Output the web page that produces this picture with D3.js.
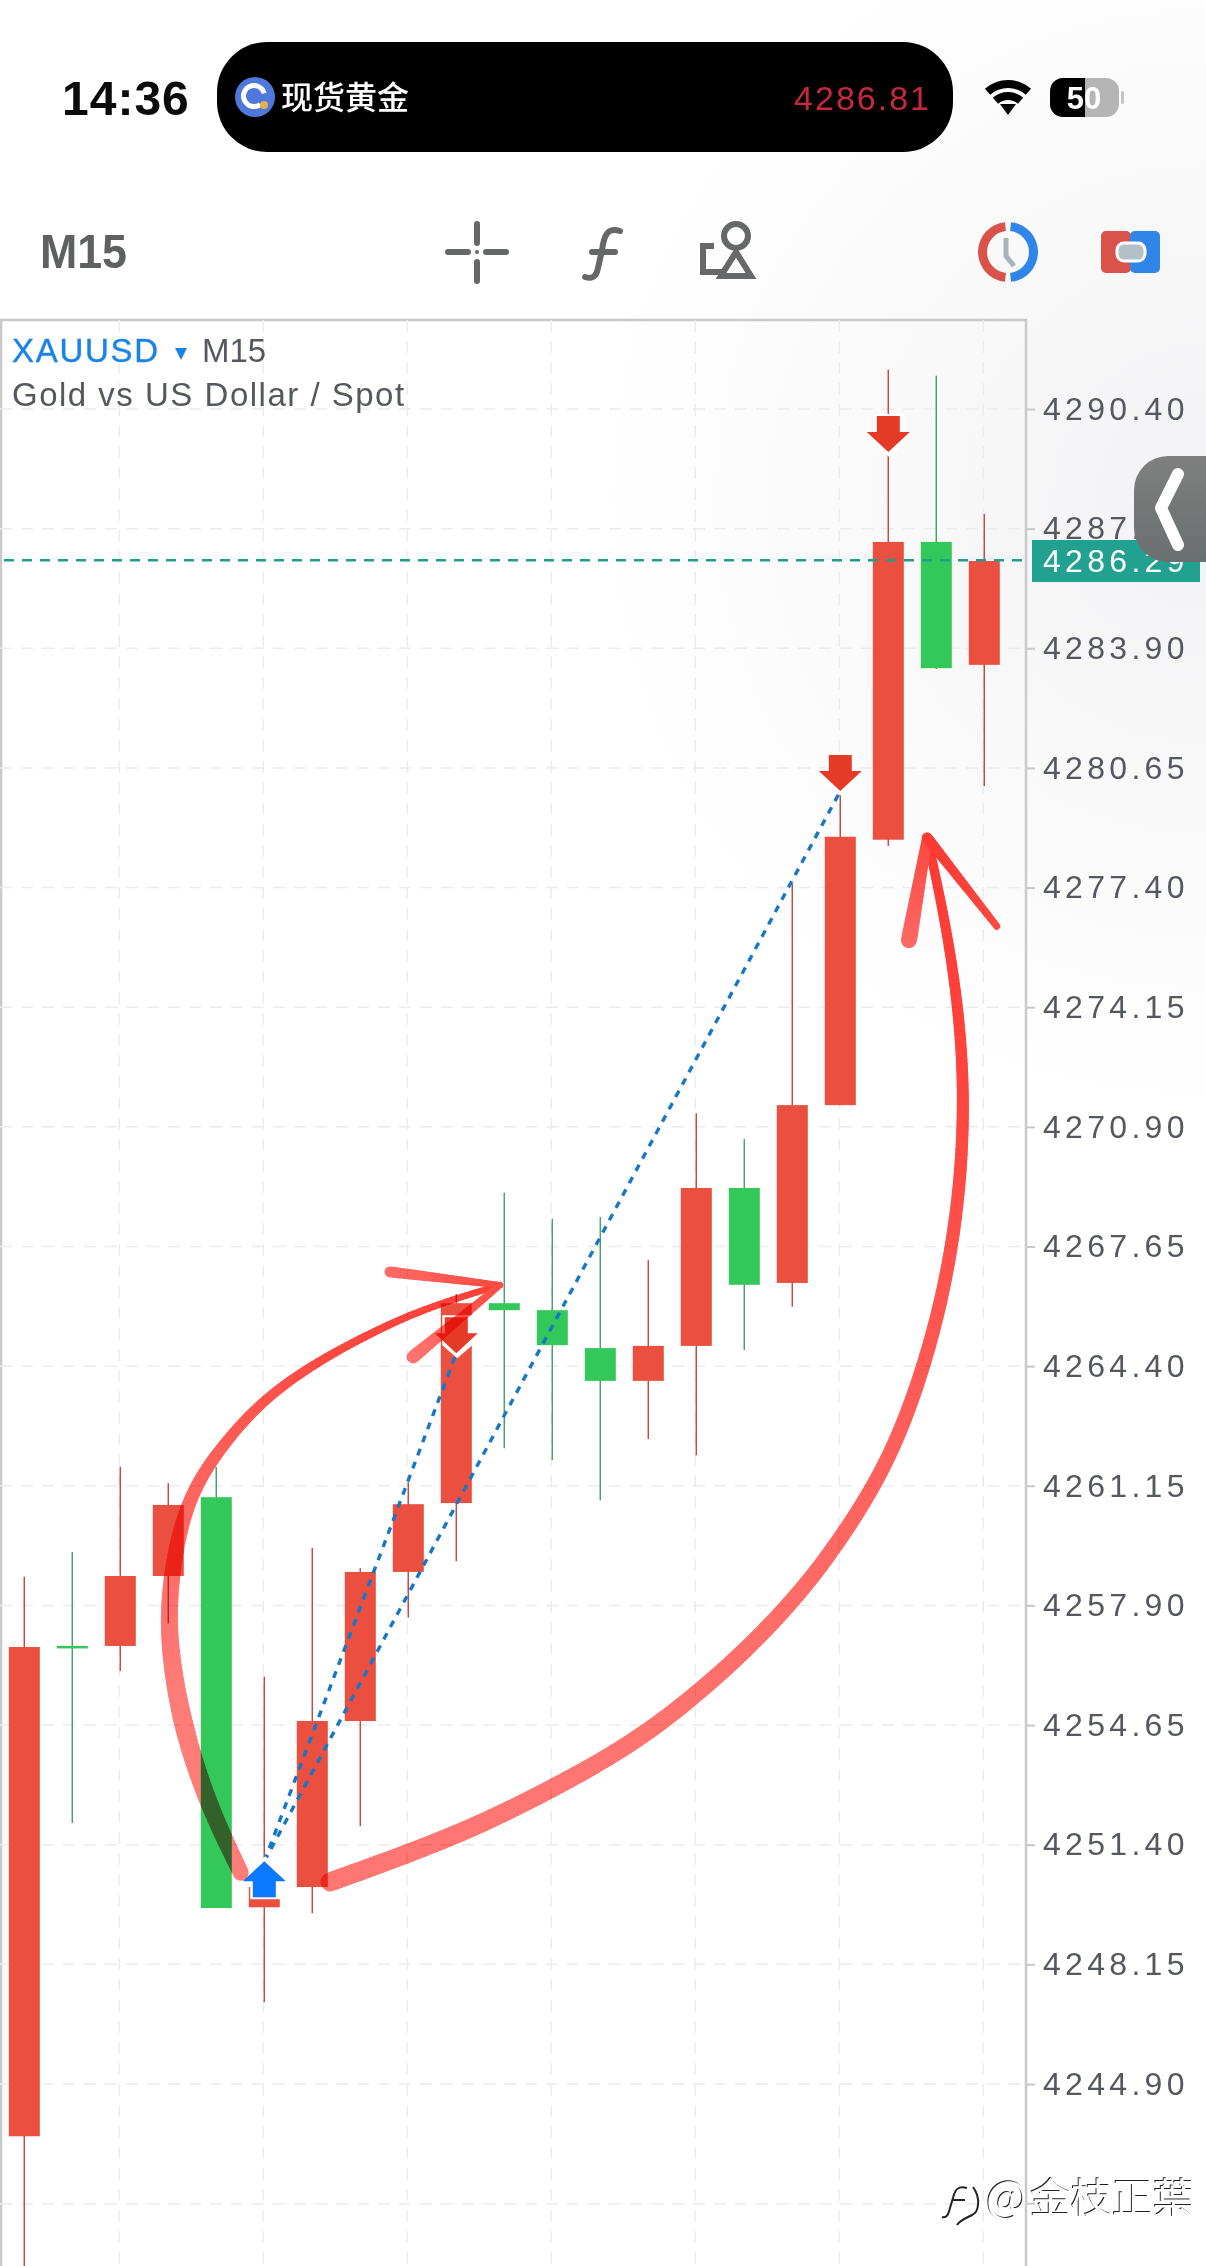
<!DOCTYPE html>
<html>
<head>
<meta charset="utf-8">
<script src="https://cdn.jsdelivr.net/npm/d3@7"></script>
<style>
  html, body { margin: 0; padding: 0; background: #fff; }
  svg { display: block; }
</style>
</head>
<body>
<div id="chart"></div>
<script>
// Candles, oldest first (red = up, green = down on this feed)
const opens  = [4243.48, 4256.80, 4256.80, 4258.70, 4260.84, 4249.70, 4250.25, 4254.76, 4258.81, 4260.68, 4266.11, 4265.92, 4264.89, 4264.00, 4264.95, 4269.24, 4266.66, 4271.49, 4278.70, 4286.79, 4283.45];
const closes = [4256.77, 4256.75, 4258.70, 4260.63, 4249.68, 4250.25, 4254.76, 4258.81, 4260.65, 4266.11, 4265.92, 4264.97, 4264.00, 4264.95, 4269.24, 4266.61, 4271.49, 4278.78, 4286.79, 4283.36, 4286.27];
const highs  = [4258.68, 4259.35, 4261.67, 4261.22, 4261.66, 4255.96, 4259.46, 4258.91, 4261.25, 4266.36, 4269.11, 4268.40, 4268.45, 4267.28, 4271.27, 4270.57, 4277.50, 4280.05, 4291.47, 4291.30, 4287.55];
const lows   = [4239.30, 4251.99, 4256.12, 4257.41, 4249.68, 4247.12, 4249.54, 4251.90, 4257.57, 4259.10, 4262.17, 4261.85, 4260.76, 4262.42, 4261.98, 4264.84, 4266.01, 4271.49, 4278.53, 4283.34, 4280.16];
const colors = ["r","g","r","r","g","r","r","r","r","r","g","g","g","r","r","g","r","r","r","g","r"];

const priceTicks = [4290.40, 4287.15, 4283.90, 4280.65, 4277.40, 4274.15, 4270.90, 4267.65, 4264.40, 4261.15, 4257.90, 4254.65, 4251.40, 4248.15, 4244.90];
const hiddenTick = 4241.65;   // under the watermark, line only
const gridBars = [2, 5, 8, 11, 14, 17, 20];
const lastPrice = 4286.29;
const quotePrice = "4286.81";

// trade arrows: [bar, price at the tip]
const sellArrows = [[9, 4264.75], [17, 4280.02], [18, 4289.23]];
const buyArrows = [[5, 4250.95]];
// dotted trade lines, from entry to exit
const tradeLines = [[[5, 4250.95], [9, 4264.75]], [[5, 4250.95], [17, 4280.02]]];

// hand drawn annotations, as [bar, price]
const curveLeft = [[4.51,4250.64],[4.01,4251.99],[3.59,4253.38],[3.24,4255.00],[3.04,4256.60],[3.00,4257.89],[3.14,4259.40],[3.38,4260.58],[3.72,4261.49],[4.22,4262.39],[4.91,4263.40],[5.88,4264.35],[7.06,4265.20],[8.18,4265.88],[9.22,4266.33],[9.91,4266.60]];
const barbUpperLeft = [[7.62,4266.96],[9.91,4266.60]];
const barbLowerLeft = [[8.10,4264.65],[9.91,4266.60]];
const curveRight = [[6.37,4250.39],[7.76,4251.04],[9.35,4251.85],[10.95,4252.88],[12.56,4254.05],[13.80,4255.25],[15.05,4256.69],[16.09,4258.13],[16.85,4259.40],[17.83,4261.36],[18.51,4263.42],[19.08,4265.92],[19.43,4268.42],[19.58,4270.92],[19.53,4273.42],[19.24,4276.19],[18.81,4278.75]];
const barbLeftRight = [[18.43,4275.97],[18.81,4278.75]];
const barbRightRight = [[20.26,4276.35],[18.81,4278.75]];

const width = 1206, height = 2266;
const chartRight = 1026, chartTop = 320;
const sans = "'Liberation Sans', Arial, sans-serif";
const cjk = "'Noto Sans CJK SC', sans-serif";

const x = d3.scaleLinear().domain([0, 20]).range([24.3, 984.3]);
const y = d3.scaleLinear().domain([4290.40, 4244.90]).range([409, 2084]);
const yAxis = d3.axisRight(y).tickValues(priceTicks).tickFormat(d3.format(".2f")).tickSize(9).tickPadding(8);

const svg = d3.select("#chart").append("svg").attr("width", width).attr("height", height);
const defs = svg.append("defs");

// the page has a faint grey sheen on the right
const sheen = defs.append("radialGradient").attr("id", "sheen").attr("gradientUnits", "userSpaceOnUse")
  .attr("cx", 1206).attr("cy", 500).attr("r", 620);
sheen.append("stop").attr("offset", 0).attr("stop-color", "#f2f2f4");
sheen.append("stop").attr("offset", 0.5).attr("stop-color", "#f9f9fa");
sheen.append("stop").attr("offset", 1).attr("stop-color", "#ffffff");
const tabFill = defs.append("linearGradient").attr("id", "tabFill").attr("x1", 0).attr("y1", 0).attr("x2", 0).attr("y2", 1);
tabFill.append("stop").attr("offset", 0).attr("stop-color", "#7f7f7f");
tabFill.append("stop").attr("offset", 1).attr("stop-color", "#6a6f6f");
defs.append("clipPath").attr("id", "plotClip").append("rect")
  .attr("x", 0).attr("y", chartTop).attr("width", chartRight).attr("height", height - chartTop);

svg.append("rect").attr("width", width).attr("height", height).attr("fill", "#fff");
svg.append("rect").attr("width", width).attr("height", height).attr("fill", "url(#sheen)");

// status bar
svg.append("text").attr("x", 62).attr("y", 115).attr("font-family", sans).attr("font-weight", 700)
  .attr("font-size", 48).attr("letter-spacing", 1).attr("fill", "#0b0b0b").text("14:36");
svg.append("rect").attr("x", 217).attr("y", 42).attr("width", 736).attr("height", 110).attr("rx", 50).attr("fill", "#000");
svg.append("circle").attr("cx", 255).attr("cy", 97).attr("r", 20).attr("fill", "#4f78dc");
svg.append("path").attr("d", d3.arc()({innerRadius: 8, outerRadius: 13, startAngle: 2.5, endAngle: 7.6}))
  .attr("transform", "translate(254,96)").attr("fill", "#fff");
svg.append("circle").attr("cx", 264).attr("cy", 105).attr("r", 4).attr("fill", "#e8b04a");
svg.append("text").attr("x", 281).attr("y", 109).attr("font-family", cjk).attr("font-weight", 500)
  .attr("font-size", 32).attr("fill", "#fff").text("现货黄金");
svg.append("text").attr("x", 931).attr("y", 110).attr("text-anchor", "end").attr("font-family", sans)
  .attr("font-size", 34).attr("letter-spacing", 2).attr("fill", "#c8283f").text(quotePrice);

// wifi
const wifi = svg.append("g").attr("transform", "translate(1008,115)");
[[35, 27], [23, 15]].forEach(function(r) {
  wifi.append("path").attr("d", d3.arc()({innerRadius: r[1], outerRadius: r[0], startAngle: -0.72, endAngle: 0.72})).attr("fill", "#000");
});
wifi.append("path").attr("d", "M-8,-11 L8,-11 L0,0 Z").attr("fill", "#000");

// battery
defs.append("clipPath").attr("id", "batClip").append("rect").attr("x", 1050).attr("y", 78).attr("width", 69).attr("height", 39).attr("rx", 13);
const bat = svg.append("g").attr("clip-path", "url(#batClip)");
bat.append("rect").attr("x", 1050).attr("y", 78).attr("width", 35).attr("height", 39).attr("fill", "#000");
bat.append("rect").attr("x", 1085).attr("y", 78).attr("width", 34).attr("height", 39).attr("fill", "#b5b5b5");
svg.append("rect").attr("x", 1121).attr("y", 91).attr("width", 3).attr("height", 13).attr("rx", 1.5).attr("fill", "#c4c4c4");
svg.append("text").attr("x", 1084).attr("y", 109).attr("text-anchor", "middle").attr("font-family", sans)
  .attr("font-weight", 700).attr("font-size", 31).attr("fill", "#fff").text("50");

// toolbar
svg.append("text").attr("x", 40).attr("y", 268).attr("font-family", sans).attr("font-weight", 700)
  .attr("font-size", 49).attr("textLength", 87).attr("lengthAdjust", "spacingAndGlyphs").attr("fill", "#5f6062").text("M15");
const iconGrey = "#666769";
const tools = svg.append("g").attr("fill", "none").attr("stroke", iconGrey).attr("stroke-width", 6);
tools.append("path").attr("d", "M448,252H468M486,252H506M477,224V243M477,262V281").attr("stroke-linecap", "round");
tools.append("circle").attr("cx", 477).attr("cy", 252).attr("r", 2).attr("fill", iconGrey).attr("stroke", "none");
tools.append("path").attr("d", "M620,231C607,227 604,236 602,250L598,268C596,278 591,279 585,277M592,252H615").attr("stroke-linecap", "round");
tools.append("circle").attr("cx", 736).attr("cy", 236).attr("r", 12);
tools.append("path").attr("d", "M736,252L721,276H751Z");
tools.append("path").attr("d", "M714,246H703V272H722");

const clockIcon = svg.append("g").attr("transform", "translate(1008,252)");
clockIcon.append("path").attr("d", d3.arc()({innerRadius: 21, outerRadius: 30, startAngle: Math.PI + 0.1, endAngle: 2 * Math.PI - 0.1})).attr("fill", "#d9534a");
clockIcon.append("path").attr("d", d3.arc()({innerRadius: 21, outerRadius: 30, startAngle: 0.1, endAngle: Math.PI - 0.1})).attr("fill", "#2f86e8");
clockIcon.append("path").attr("d", "M-2,-14V4L6,14").attr("fill", "none").attr("stroke", "#a9b4bb").attr("stroke-width", 5);

svg.append("rect").attr("x", 1101).attr("y", 231).attr("width", 30).attr("height", 42).attr("rx", 5).attr("fill", "#d9534a");
svg.append("rect").attr("x", 1130).attr("y", 231).attr("width", 30).attr("height", 42).attr("rx", 5).attr("fill", "#2f86e8");
svg.append("rect").attr("x", 1117).attr("y", 243).attr("width", 28).attr("height", 18).attr("rx", 7)
  .attr("fill", "#b4c0c8").attr("stroke", "#fff").attr("stroke-width", 3);

// frame
svg.append("path").attr("d", "M1," + height + "V" + chartTop + "H" + chartRight + "V" + height)
  .attr("fill", "none").attr("stroke", "#c9c9c9").attr("stroke-width", 2.5);

// grid
const grid = svg.append("g").attr("clip-path", "url(#plotClip)").attr("stroke", "#ececec").attr("stroke-width", 1.5).attr("stroke-dasharray", "12,9");
grid.selectAll("line.h").data(priceTicks.concat([hiddenTick])).enter().append("line")
  .attr("x1", 0).attr("x2", chartRight).attr("y1", function(d) { return y(d); }).attr("y2", function(d) { return y(d); });
grid.selectAll("line.v").data(gridBars).enter().append("line")
  .attr("x1", function(d) { return x(d) - 1; }).attr("x2", function(d) { return x(d) - 1; })
  .attr("y1", chartTop).attr("y2", height);

// price axis
const axisG = svg.append("g").attr("transform", "translate(" + chartRight + ",0)").call(yAxis);
axisG.select(".domain").remove();
axisG.selectAll(".tick line").attr("stroke", "#c9c9c9").attr("stroke-width", 2);
axisG.selectAll(".tick text").attr("font-family", sans).attr("font-size", 32).attr("letter-spacing", 4.3).attr("fill", "#55585e");
svg.append("line").attr("x1", chartRight).attr("x2", chartRight + 9).attr("y1", y(hiddenTick)).attr("y2", y(hiddenTick)).attr("stroke", "#c9c9c9").attr("stroke-width", 2);

// candles
const plot = svg.append("g").attr("clip-path", "url(#plotClip)");
const candleData = d3.range(opens.length);
const bodyColor = {r: "#ea4f3f", g: "#34c759"};
const wickColor = {r: "#b5524a", g: "#4f9f68"};
plot.selectAll("line.wick").data(candleData).enter().append("line")
  .attr("x1", function(i) { return x(i); }).attr("x2", function(i) { return x(i); })
  .attr("y1", function(i) { return y(highs[i]); }).attr("y2", function(i) { return y(lows[i]); })
  .attr("stroke", function(i) { return wickColor[colors[i]]; }).attr("stroke-width", 1.5);
plot.selectAll("rect.body").data(candleData).enter().append("rect")
  .attr("x", function(i) { return x(i) - 15.5; }).attr("width", 31)
  .attr("y", function(i) { return y(Math.max(opens[i], closes[i])); })
  .attr("height", function(i) { return Math.max(2.5, Math.abs(y(opens[i]) - y(closes[i]))); })
  .attr("fill", function(i) { return bodyColor[colors[i]]; });

// last price line
svg.append("line").attr("x1", 4).attr("x2", chartRight).attr("y1", y(lastPrice)).attr("y2", y(lastPrice))
  .attr("stroke", "#1f9e8e").attr("stroke-width", 2.4).attr("stroke-dasharray", "10,8");

// trade lines
const tradeLine = d3.line().x(function(d) { return x(d[0]); }).y(function(d) { return y(d[1]); });
svg.selectAll("path.trade").data(tradeLines).enter().append("path")
  .attr("d", tradeLine).attr("fill", "none").attr("stroke", "#1677c8").attr("stroke-width", 3.4).attr("stroke-dasharray", "7,7");

// arrows, drawn from the tip (dir 1 points down, -1 points up) on a white marker box
function arrowPath(dir) {
  return "M0,0L21.5," + (-20 * dir) + "H11.5V" + (-36 * dir) + "H-11.5V" + (-20 * dir) + "H-21.5Z";
}
function haloPath(dir) {
  return "M-14," + (-38 * dir) + "H16V" + (-8 * dir) + "L1," + (5 * dir) + "L-14," + (-8 * dir) + "Z";
}
function placeArrows(data, dir, color) {
  const g = svg.selectAll(null).data(data).enter().append("g")
    .attr("transform", function(d) { return "translate(" + x(d[0]) + "," + y(d[1]) + ")"; });
  g.append("path").attr("d", haloPath(dir)).attr("fill", "#fff");
  g.append("path").attr("d", arrowPath(dir)).attr("fill", color);
}
placeArrows(sellArrows, 1, "#e53a26");
placeArrows(buyArrows, -1, "#0a78ff");

// hand drawn strokes; width and colour run along the stroke
const ink = svg.append("g").style("mix-blend-mode", "multiply");
function brush(points, widths, inks) {
  const probe = svg.append("path").attr("fill", "none")
    .attr("d", d3.line().x(function(d) { return x(d[0]); }).y(function(d) { return y(d[1]); }).curve(d3.curveBasis)(points));
  const node = probe.node(), len = node.getTotalLength(), steps = Math.ceil(len / 5);
  const stops = function(n) { return d3.range(n).map(function(k) { return k / (n - 1); }); };
  const w = d3.scaleLinear().domain(stops(widths.length)).range(widths);
  const c = d3.scaleLinear().domain(stops(inks.length)).range(inks);
  for (let i = 0; i < steps; i++) {
    const a = node.getPointAtLength(len * i / steps), b = node.getPointAtLength(len * (i + 1) / steps), t = i / steps;
    ink.append("line").attr("x1", a.x).attr("y1", a.y).attr("x2", b.x).attr("y2", b.y)
      .attr("stroke", c(t)).attr("stroke-width", w(t)).attr("stroke-linecap", "round");
  }
  probe.remove();
}
brush(curveLeft, [16, 19, 16, 11, 8, 6], ["#ff7d79", "#ff7d79", "#ff6660", "#ff4a42", "#ff3f38"]);
brush(barbUpperLeft, [11, 6], ["#ff6a64", "#ff4a42"]);
brush(barbLowerLeft, [13, 6], ["#ff7570", "#ff4a42"]);
brush(curveRight, [19, 18, 16, 14, 12, 9], ["#ff7672", "#ff7672", "#ff6d68", "#ff5a55", "#ff4640", "#ff3a33"]);
brush(barbLeftRight, [16, 10], ["#ff6a64", "#ff4a42"]);
brush(barbRightRight, [7, 11], ["#ff4a42", "#ff3a33"]);

// price tag and side tab sit on top
svg.append("rect").attr("x", 1032).attr("y", 540).attr("width", 168).attr("height", 42).attr("fill", "#22a191");
svg.append("text").attr("x", 1043).attr("y", y(lastPrice)).attr("dy", "0.35em").attr("font-family", sans)
  .attr("font-size", 32).attr("letter-spacing", 4.3).attr("fill", "#fff").text(d3.format(".2f")(lastPrice));
svg.append("path").attr("d", "M1206,456H1168A34,34 0 0 0 1134,490V528A34,34 0 0 0 1168,562H1206Z").attr("fill", "url(#tabFill)");
svg.append("path").attr("d", "M1178,474L1161,508L1178,545").attr("fill", "none").attr("stroke", "#fff")
  .attr("stroke-width", 12).attr("stroke-linecap", "round").attr("stroke-linejoin", "round");

// header
svg.append("text").attr("x", 12).attr("y", 362).attr("font-family", sans).attr("font-size", 33)
  .attr("letter-spacing", 1.7).attr("stroke", "#1a83e8").attr("stroke-width", 0.4).attr("fill", "#1a83e8").text("XAUUSD");
svg.append("path").attr("d", "M175,348H187L181,360Z").attr("fill", "#1a83e8");
svg.append("text").attr("x", 202).attr("y", 362).attr("font-family", sans).attr("font-size", 33).attr("fill", "#55585e").text("M15");
svg.append("text").attr("x", 12).attr("y", 406).attr("font-family", sans).attr("font-size", 33)
  .attr("letter-spacing", 1.5).attr("fill", "#55585e").text("Gold vs US Dollar / Spot");

// watermark, white with a dark edge
const mark = svg.append("g").attr("font-family", "'Noto Sans CJK TC', sans-serif").attr("font-size", 41);
[["#222", -1, -1], ["#fff", 0, 0]].forEach(function(m) {
  mark.append("text").attr("x", 986 + m[1]).attr("y", 2213 + m[2]).attr("font-size", 44).attr("fill", m[0]).text("@");
  mark.append("text").attr("x", 1030 + m[1]).attr("y", 2213 + m[2]).attr("fill", m[0]).text("金枝正葉");
});
mark.append("path")
  .attr("d", "M967,2188C958,2185 955,2190 953,2198L950,2208C948,2217 945,2218 942,2217M952,2200H965M973,2187C981,2198 979,2212 972,2215C964,2219 959,2221 957,2225")
  .attr("fill", "none").attr("stroke", "#222").attr("stroke-width", 2);
</script>
</body>
</html>
